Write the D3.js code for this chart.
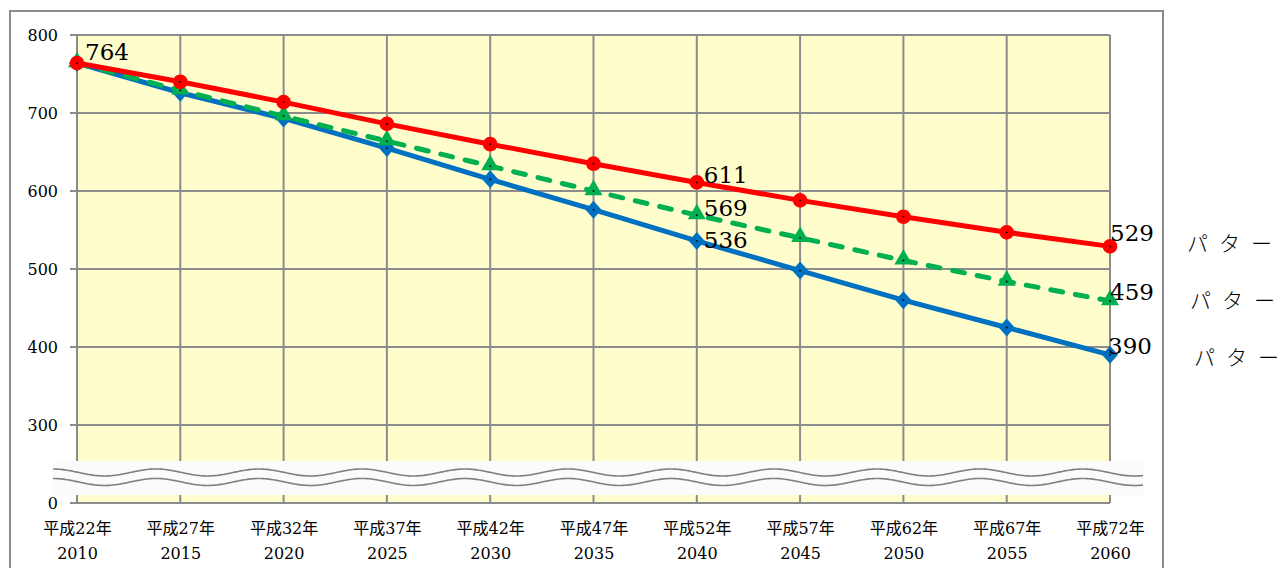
<!DOCTYPE html>
<html><head><meta charset="utf-8">
<script src="https://cdn.jsdelivr.net/npm/d3@7"></script>
<style>
html,body{margin:0;padding:0;background:#fff;overflow:hidden;}
svg{display:block;}
</style></head>
<body>
<svg id="chart" width="1282" height="568"></svg>
<script>
// ---- data ----
const eraLabels = ["平成22年","平成27年","平成32年","平成37年","平成42年","平成47年","平成52年","平成57年","平成62年","平成67年","平成72年"];
const years = ["2010","2015","2020","2025","2030","2035","2040","2045","2050","2055","2060"];
const seriesNames = ["パターン1","パターン2","パターン3"];
const redValues   = [764,740,714,686,660,635,611,588,567,547,529];
const greenValues = [764,729,696,664,632,600,569,540,511,484,459];
const blueValues  = [764,726,693,655,615,576,536,498,460,425,390];
const yTickValues = [200,300,400,500,600,700,800];
const yTickLabels = ["0","300","400","500","600","700","800"];

const svg = d3.select("#chart");
const serif = "'DejaVu Serif','Noto Sans CJK JP',serif";
const L = 77, R = 1110, T = 35, B = 503;

const x = d3.scalePoint().domain(years).range([L, R]);
const y = d3.scaleLinear().domain([200, 800]).range([B, T]);

// outer frame
svg.append("rect").attr("x",10).attr("y",11).attr("width",1153).attr("height",600)
  .attr("fill","#fff").attr("stroke","#8c8c8c").attr("stroke-width",2);

// plot background
svg.append("rect").attr("x",L).attr("y",T).attr("width",R-L).attr("height",B-T).attr("fill","#FFFDCC");

// gridlines
const grid = svg.append("g");
grid.selectAll("line.h").data(yTickValues).join("line")
  .attr("x1",L-7).attr("x2",R).attr("y1",d=>y(d)).attr("y2",d=>y(d))
  .attr("stroke","#8c8c8c").attr("stroke-width",2);
grid.selectAll("line.v").data(years).join("line")
  .attr("x1",d=>x(d)).attr("x2",d=>x(d)).attr("y1",T).attr("y2",B)
  .attr("stroke","#8c8c8c").attr("stroke-width",2);

// y axis labels
const yAxis = d3.axisLeft(y).tickValues(yTickValues)
  .tickFormat((d,i)=>yTickLabels[i]).tickSize(0).tickPadding(0);
const ya = svg.append("g").attr("transform",`translate(${L-19},0)`).call(yAxis);
ya.select(".domain").remove();
ya.selectAll("text").attr("font-family",serif).attr("font-size",16).attr("fill","#000");

// x axis labels
const xAxis = d3.axisBottom(x).tickSize(0).tickFormat(()=> "");
const xa = svg.append("g").attr("transform",`translate(0,${B})`).call(xAxis);
xa.select(".domain").remove();
xa.selectAll(".tick").each(function(d,i){
  const g = d3.select(this);
  g.append("text").attr("y",31).attr("text-anchor","middle").attr("font-family",serif)
    .attr("font-size",16).attr("fill","#000").text(eraLabels[i]);
  g.append("text").attr("y",56).attr("text-anchor","middle").attr("font-family",serif)
    .attr("font-size",16).attr("fill","#000").text(years[i]);
});

// break band
const band = svg.append("g");
band.append("rect").attr("x",53).attr("y",461).attr("width",1090).attr("height",34).attr("fill","#fbfbfb");
const waveX = d3.range(53, 1144, 2);
[472.5, 482].forEach(cy=>{
  band.append("path")
    .attr("d", d3.line().curve(d3.curveBasis)(waveX.map(px=>[px, cy - 3.5*Math.cos(2*Math.PI*(px-53)/103)])))
    .attr("fill","none").attr("stroke","#808080").attr("stroke-width",1.6);
});

// series
const diamond = "M0,-9L8,0L0,9L-8,0Z";
const series = [
  {vals: blueValues,  color:"#0070C0", dash:null,     marker:"diamond"},
  {vals: greenValues, color:"#00B050", dash:"12,13",  marker:"triangle"},
  {vals: redValues,   color:"#FF0000", dash:null,     marker:"circle"}
];
const line = d3.line().x((d,i)=>x(years[i])).y(d=>y(d));
series.forEach(s=>{
  svg.append("path").datum(s.vals).attr("d",line).attr("fill","none")
    .attr("stroke",s.color).attr("stroke-width",5)
    .attr("stroke-linecap", s.dash ? "round" : "butt")
    .attr("stroke-dasharray", s.dash);
  const symPath = s.marker==="diamond" ? diamond
            : s.marker==="triangle" ? d3.symbol(d3.symbolTriangle, 140)()
            : d3.symbol(d3.symbolCircle, 170)();
  const mg = svg.append("g");
  mg.selectAll("path").data(s.vals).join("path")
    .attr("transform",(d,i)=>`translate(${x(years[i])},${y(d) + (s.marker==="triangle"?-1:0)})`)
    .attr("d", symPath).attr("fill",s.color);
  mg.selectAll("circle").data(s.vals).join("circle")
    .attr("cx",(d,i)=>x(years[i])).attr("cy",d=>y(d)).attr("r",0.9).attr("fill","#000");
});

// data labels
const labelSpecs = [
  {vals: redValues,   i: 0,  dx: 8, dy: -3},
  {vals: redValues,   i: 6,  dx: 7, dy: 1},
  {vals: greenValues, i: 6,  dx: 7, dy: 1},
  {vals: blueValues,  i: 6,  dx: 7, dy: 7},
  {vals: redValues,   i: 10, dx: 0, dy: -5},
  {vals: greenValues, i: 10, dx: 0, dy: -1},
  {vals: blueValues,  i: 10, dx: -2, dy: -1}
];
svg.append("g").selectAll("text").data(labelSpecs).join("text")
  .attr("x", d=>x(years[d.i]) + d.dx)
  .attr("y", d=>y(d.vals[d.i]) + d.dy)
  .attr("font-family",serif).attr("font-size",23).attr("fill","#000")
  .text(d=>d.vals[d.i]);

// legend text (clipped by the right edge, as in the reference)
const legY = [251, 308, 365];
const legX = [1187, 1190, 1194];
svg.append("g").selectAll("text").data(seriesNames).join("text")
  .attr("x",(d,i)=>legX[i]).attr("y",(d,i)=>legY[i])
  .attr("font-family","'Noto Sans CJK JP',sans-serif").attr("font-weight",300)
  .attr("font-size",21).attr("letter-spacing",11).attr("fill","#000").text(d=>d);
</script>
</body></html>
